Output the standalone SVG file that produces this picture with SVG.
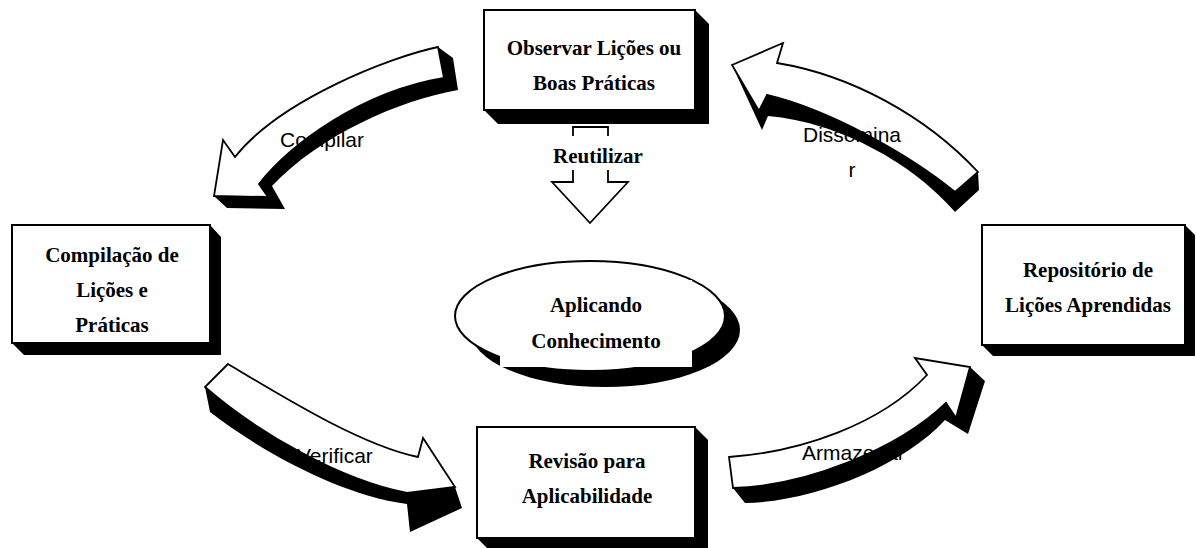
<svg xmlns="http://www.w3.org/2000/svg" width="1196" height="548" viewBox="0 0 1196 548">
<style>
.box{fill:#fff;stroke:#000;stroke-width:2}
.sh{fill:#000;stroke:none}
.face{fill:#fff;stroke:#000;stroke-width:1.8;stroke-linejoin:miter}
.nt{font-family:"Liberation Serif","Times New Roman",serif;font-weight:bold;font-size:21px;text-anchor:middle;fill:#000}
.lt{font-family:"Liberation Sans",Arial,sans-serif;font-size:21px;fill:#000}
</style>
<rect width="1196" height="548" fill="#fff"/>
<g id="connectors">
  <g id="arrow-compilar">
    <path class="sh" d="M438,47 L453,58 L458,90 C400,100 320,135 272,186 L285,209 L227,208 L214,196 L268,197 L259,184 C290,145 360,92 444,78 Z"/>
    <path class="face" d="M438,47 C390,57 280,100 235,157 L223,140 L214,196 L268,197 L259,184 C290,145 360,92 444,78 Z"/>
    <text class="lt" x="280" y="147">Compilar</text>
  </g>
  <g id="arrow-verificar">
    <path class="sh" d="M205,387 L210,412 C262,452 340,495 407,504 L410,532 L462,508 L455,487 L407,493 C340,480 258,433 205,387 Z"/>
    <path class="face" d="M228,364 C280,395 360,445 418,457 L423,438 L455,487 L407,493 C340,480 258,433 205,387 Z"/>
    <text class="lt" x="297" y="463">Verificar</text>
  </g>
  <g id="arrow-armazenar">
    <path class="sh" d="M733,488 L745,503 C812,502 902,467 945,420 L968,434 L985,381 L970,367 L956,418 L946,403 C897,450 805,486 733,488 Z"/>
    <path class="face" d="M729,457 C800,452 880,425 927,375 L915,358 L970,367 L956,418 L946,403 C897,450 805,486 733,488 Z"/>
    <text class="lt" x="802" y="460">Armazenar</text>
  </g>
  <g id="arrow-disseminar">
    <path class="sh" d="M732,65 L762,130 L768,116 C840,122 915,165 955,212 L979,190 L978,172 L955,192 C910,155 830,110 767,95 L759,111 Z"/>
    <path class="face" d="M732,65 L783,43 L777,63 C850,75 925,115 978,172 L955,192 C910,155 830,110 767,95 L759,111 Z"/>
    <text class="lt" x="852" y="142" text-anchor="middle">Dissemina</text>
    <text class="lt" x="852" y="177" text-anchor="middle">r</text>
  </g>
  <g id="arrow-reutilizar">
    <path class="face" stroke-width="2" d="M573,127 L608,127 L608,182 L628,182 L590,223 L552,182 L573,182 Z"/>
    <rect x="548" y="136" width="100" height="34" fill="#fff"/>
    <text class="nt" x="598" y="163">Reutilizar</text>
  </g>
</g>
<g id="node-observar">
  <polygon class="sh" points="484,110 498,124 709,124 709,24 695,10"/>
  <rect class="box" x="484" y="10" width="211" height="100"/>
  <text class="nt" x="594" y="55">Observar Lições ou</text>
  <text class="nt" x="594" y="90">Boas Práticas</text>
</g>
<g id="node-compilacao">
  <polygon class="sh" points="12,343 24,355 221,355 221,237 210,225"/>
  <rect class="box" x="12" y="225" width="198" height="118"/>
  <text class="nt" x="112" y="262">Compilação de</text>
  <text class="nt" x="112" y="297">Lições e</text>
  <text class="nt" x="112" y="332">Práticas</text>
</g>
<g id="node-repositorio">
  <polygon class="sh" points="982,345 993,356 1195,356 1195,235 1185,225"/>
  <rect class="box" x="982" y="225" width="203" height="120"/>
  <text class="nt" x="1088" y="277">Repositório de</text>
  <text class="nt" x="1088" y="312">Lições Aprendidas</text>
</g>
<g id="node-revisao">
  <polygon class="sh" points="477,538 487,548 708,548 708,440 695,427"/>
  <rect class="box" x="477" y="427" width="218" height="111"/>
  <text class="nt" x="587" y="468">Revisão para</text>
  <text class="nt" x="587" y="503">Aplicabilidade</text>
</g>
<g id="node-aplicando">
  <ellipse class="sh" cx="605" cy="330" rx="135" ry="57"/>
  <ellipse class="box" cx="590" cy="316" rx="135" ry="55"/>
  <rect x="500" y="280" width="192" height="87" fill="#fff"/>
  <text class="nt" x="596" y="312">Aplicando</text>
  <text class="nt" x="596" y="348">Conhecimento</text>
</g>
</svg>
